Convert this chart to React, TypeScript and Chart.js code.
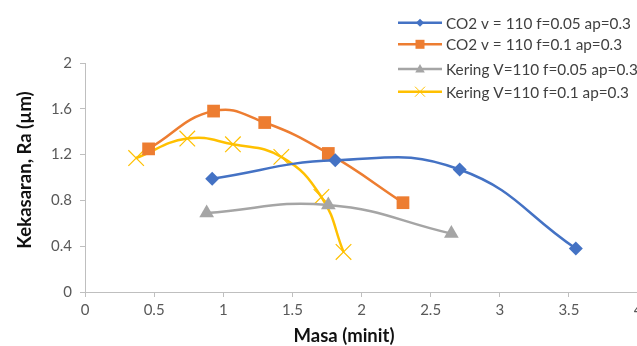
import React, { useEffect, useRef } from "react";
import { Chart, registerables } from "chart.js";

Chart.register(...registerables);

// ---- data ----
const seriesNames = [
  "CO2 v = 110 f=0.05 ap=0.3",
  "CO2 v = 110 f=0.1 ap=0.3",
  "Kering V=110 f=0.05 ap=0.3",
  "Kering V=110 f=0.1 ap=0.3",
];
const co2F005X = [0.92, 1.81, 2.71, 3.55];
const co2F005Y = [0.99, 1.15, 1.07, 0.38];
const co2F01X = [0.46, 0.93, 1.3, 1.76, 2.3];
const co2F01Y = [1.25, 1.58, 1.48, 1.21, 0.78];
const keringF005X = [0.88, 1.76, 2.65];
const keringF005Y = [0.69, 0.76, 0.51];
const keringF01X = [0.37, 0.74, 1.07, 1.42, 1.71, 1.87];
const keringF01Y = [1.17, 1.34, 1.29, 1.18, 0.83, 0.35];
const xTickLabels = ["0", "0.5", "1", "1.5", "2", "2.5", "3", "3.5", "4"];
const yTickLabels = ["0", "0.4", "0.8", "1.2", "1.6", "2"];
const xTitle = "Masa (minit)";
const yTitle = "Kekasaran, Ra (µm)";

const colors = ["#4472C4", "#ED7D31", "#A5A5A5", "#FFC000"];
const pointStyles = ["rectRot", "rect", "triangle", "crossRot"];
const pointRadii = [7, 9, 8.5, 11];
const FONT = "Lato, 'Open Sans', sans-serif";

const toPts = (xs: number[], ys: number[]) => xs.map((x, i) => ({ x, y: ys[i] }));

function drawMarker(ctx: CanvasRenderingContext2D, style: string, x: number, y: number, color: string) {
  ctx.save();
  ctx.fillStyle = color;
  ctx.strokeStyle = color;
  ctx.beginPath();
  if (style === "rectRot") {
    const r = 4;
    ctx.moveTo(x, y - r);
    ctx.lineTo(x + r, y);
    ctx.lineTo(x, y + r);
    ctx.lineTo(x - r, y);
    ctx.closePath();
    ctx.fill();
  } else if (style === "rect") {
    const s = 4.5;
    ctx.rect(x - s, y - s, 2 * s, 2 * s);
    ctx.fill();
  } else if (style === "triangle") {
    const r = 5;
    ctx.moveTo(x, y - r);
    ctx.lineTo(x + r * 0.95, y + r * 0.7);
    ctx.lineTo(x - r * 0.95, y + r * 0.7);
    ctx.closePath();
    ctx.fill();
  } else {
    const r = 5;
    ctx.lineWidth = 1;
    ctx.moveTo(x - r, y - r);
    ctx.lineTo(x + r, y + r);
    ctx.moveTo(x + r, y - r);
    ctx.lineTo(x - r, y + r);
    ctx.stroke();
  }
  ctx.restore();
}

const legendRowY = [22.7, 44.3, 69, 91.7];

const overlayPlugin = {
  id: "overlay",
  afterDraw(chart: any) {
    const ctx: CanvasRenderingContext2D = chart.ctx;
    ctx.save();
    // legend
    seriesNames.forEach((name, i) => {
      const y = legendRowY[i];
      ctx.strokeStyle = colors[i];
      ctx.lineWidth = 2.5;
      ctx.beginPath();
      ctx.moveTo(398, y);
      ctx.lineTo(442, y);
      ctx.stroke();
      drawMarker(ctx, pointStyles[i], 420, y, colors[i]);
      ctx.fillStyle = "#404040";
      ctx.font = `15.3px ${FONT}`;
      ctx.textBaseline = "middle";
      ctx.textAlign = "left";
      ctx.fillText(name, 446, y + 1);
    });
    // axis titles
    ctx.fillStyle = "#111";
    ctx.font = `bold 18.5px ${FONT}`;
    ctx.textAlign = "center";
    ctx.textBaseline = "middle";
    ctx.fillText(xTitle, 344, 336.5);
    ctx.translate(25, 170);
    ctx.rotate(-Math.PI / 2);
    ctx.fillText(yTitle, 0, 0);
    ctx.restore();
  },
};

export default function App() {
  const ref = useRef<HTMLCanvasElement | null>(null);
  useEffect(() => {
    if (!ref.current) return;
    const series = [
      toPts(co2F005X, co2F005Y),
      toPts(co2F01X, co2F01Y),
      toPts(keringF005X, keringF005Y),
      toPts(keringF01X, keringF01Y),
    ];
    const chart = new Chart(ref.current, {
      type: "line",
      data: {
        datasets: series.map((d, i) => ({
          label: seriesNames[i],
          data: d,
          borderColor: colors[i],
          backgroundColor: colors[i],
          borderWidth: 2.5,
          pointStyle: pointStyles[i] as any,
          pointRadius: pointRadii[i],
          pointBorderWidth: i === 3 ? 1.2 : 0,
          pointBorderColor: colors[i],
          tension: 0.45,
          fill: false,
        })),
      },
      options: {
        responsive: false,
        animation: false,
        devicePixelRatio: 1,
        layout: { padding: { top: 63, right: 22, left: 0, bottom: 0 } },
        plugins: { legend: { display: false }, tooltip: { enabled: false } },
        scales: {
          x: {
            type: "linear",
            min: 0,
            max: 4,
            afterFit: (s: any) => { s.height = 54; },
            afterBuildTicks: (s: any) => { s.ticks = xTickLabels.map((t) => ({ value: parseFloat(t) })); },
            ticks: {
              callback: (_v: any, i: number) => xTickLabels[i],
              color: "#595959",
              font: { family: FONT, size: 15 },
              padding: 4,
              maxRotation: 0,
              autoSkip: false,
            },
            grid: { drawOnChartArea: false, drawTicks: true, tickLength: 5, color: "#bfbfbf" },
            border: { color: "#bfbfbf", width: 1 },
          },
          y: {
            type: "linear",
            min: 0,
            max: 2,
            afterFit: (s: any) => { s.width = 85; },
            afterBuildTicks: (s: any) => { s.ticks = yTickLabels.map((t) => ({ value: parseFloat(t) })); },
            ticks: {
              callback: (_v: any, i: number) => yTickLabels[i],
              color: "#595959",
              font: { family: FONT, size: 15 },
              padding: 8,
              autoSkip: false,
            },
            grid: { drawOnChartArea: false, drawTicks: true, tickLength: 5, color: "#bfbfbf" },
            border: { color: "#bfbfbf", width: 1 },
          },
        },
      },
      plugins: [overlayPlugin],
    });
    return () => chart.destroy();
  }, []);
  return (
    <div style={{ position: "fixed", left: 0, top: 0, width: 637, height: 346, overflow: "hidden", background: "#fff" }}>
      <canvas ref={ref} width={660} height={346} style={{ display: "block" }} />
    </div>
  );
}
